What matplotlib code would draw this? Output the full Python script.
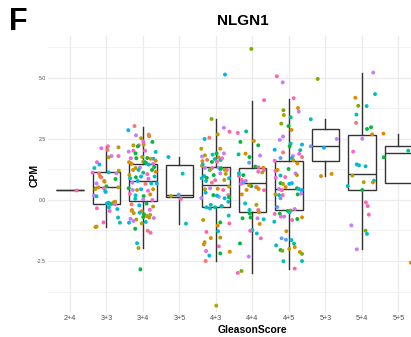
import numpy as np
import matplotlib
matplotlib.use("Agg")
import matplotlib.pyplot as plt

plt.rcParams['font.family'] = ['Liberation Sans', 'DejaVu Sans']

categories = ['2+4', '3+3', '3+4', '3+5', '4+3', '4+4', '4+5', '5+3', '5+4', '5+5']

# box statistics per Gleason score (CPM)
box_lo  = [0.42, -1.11, -1.97, -0.97, -2.50, -3.00, -2.83, 0.98, -2.00, 0.68]
box_q1  = [0.42, -0.15, -0.03,  0.11, -0.29, -0.50, -0.42, 1.61,  0.41, 0.68]
box_med = [0.42,  0.53,  0.79,  0.22,  0.63,  0.70,  0.46, 2.20,  1.07, 1.91]
box_q3  = [0.42,  1.14,  1.46,  1.42,  1.34,  1.32,  1.61, 2.91,  2.65, 2.20]
box_hi  = [0.42,  2.21,  3.01,  1.75,  3.31,  4.07,  4.15, 3.31,  5.22, 2.70]

# samples: (jitter, CPM, colour group)
pts_2p4 = [(0.16, 0.42, 11)]

pts_3p3 = [
    (-0.14, 2.12, 10), (0.04, 2.20, 11), (0.03, 2.05, 0), (0.33, 2.16, 2),
    (0.14, 1.80, 9), (0.06, 1.75, 2), (0.33, 1.80, 11), (-0.26, 1.55, 10),
    (-0.19, 1.45, 7), (-0.33, 1.31, 6), (-0.38, 1.12, 10), (-0.20, 1.08, 0),
    (0.06, 1.13, 6), (0.27, 1.09, 9), (0.34, 1.20, 2), (-0.17, 0.96, 2),
    (-0.14, 0.93, 0), (0.25, 0.86, 4), (-0.06, 0.78, 2), (-0.05, 0.75, 1),
    (0.00, 0.56, 4), (-0.27, 0.68, 9), (-0.30, 0.45, 2), (-0.22, 0.52, 1),
    (-0.07, 0.48, 11), (-0.03, 0.36, 6), (-0.02, 0.33, 7), (0.33, 0.52, 2),
    (-0.34, 0.18, 9), (-0.27, 0.15, 6), (0.01, -0.14, 7), (0.06, -0.11, 6),
    (0.12, -0.16, 5), (0.19, -0.10, 1), (0.24, -0.07, 2), (0.24, -0.18, 10),
    (0.07, -0.30, 6), (0.30, -0.37, 7), (-0.26, -0.34, 11), (0.09, -0.45, 10),
    (0.32, -0.72, 6), (0.37, -0.93, 6), (-0.08, -0.92, 11), (-0.27, -1.09, 2),
    (-0.30, -1.11, 1),
]

pts_3p4 = [
    (-0.40, 2.86, 7), (-0.23, 3.03, 0), (-0.19, 2.65, 9), (-0.05, 2.53, 2),
    (0.17, 2.62, 1), (0.16, 2.68, 0), (0.26, 2.38, 4), (0.01, 2.40, 10),
    (-0.39, 1.98, 9), (-0.26, 2.02, 11), (-0.20, 1.91, 4), (-0.26, 2.24, 2),
    (-0.11, 2.24, 10), (0.02, 2.27, 2), (-0.14, 2.20, 4), (0.06, 2.02, 10),
    (0.35, 1.97, 6), (-0.33, 1.71, 10), (-0.18, 1.71, 4), (-0.02, 1.76, 2),
    (0.12, 1.72, 4), (0.29, 1.69, 7), (0.35, 1.61, 1), (-0.38, 1.55, 1),
    (0.01, 1.57, 2), (0.05, 1.55, 6), (0.09, 1.52, 7), (0.28, 1.48, 10),
    (0.31, 1.35, 4), (-0.20, 1.31, 2), (-0.08, 1.33, 9), (-0.31, 1.49, 1),
    (0.06, 1.53, 4), (0.16, 1.45, 6), (0.21, 1.69, 1), (-0.27, 1.23, 1),
    (-0.12, 1.23, 6), (0.01, 1.12, 5), (0.12, 1.06, 11), (0.25, 1.23, 4),
    (0.35, 1.15, 1), (-0.37, 1.02, 2), (-0.19, 0.93, 4), (-0.05, 0.96, 7),
    (0.15, 0.87, 10), (0.32, 0.96, 6), (-0.29, 0.71, 9), (-0.14, 0.78, 7),
    (0.07, 0.66, 0), (0.23, 0.68, 6), (0.38, 0.68, 7), (-0.39, 0.48, 4),
    (-0.28, 0.41, 9), (-0.16, 0.41, 2), (-0.05, 0.44, 7), (0.14, 0.38, 10),
    (0.28, 0.44, 2), (-0.36, 0.25, 11), (-0.20, 0.19, 6), (0.02, 0.16, 4),
    (0.20, 0.23, 1), (-0.21, 0.05, 6), (0.01, 0.03, 9), (0.26, 0.00, 10),
    (-0.31, -0.18, 0), (-0.10, -0.22, 7), (0.10, -0.15, 4), (0.28, -0.27, 2),
    (-0.31, -0.44, 11), (-0.03, -0.46, 1), (0.19, -0.40, 10), (-0.34, -0.77, 9),
    (-0.18, -0.80, 2), (0.01, -0.70, 4), (0.17, -0.72, 1), (0.30, -0.74, 9),
    (-0.38, -0.93, 7), (-0.21, -1.18, 4), (-0.30, -0.41, 1), (-0.25, -0.54, 2),
    (-0.09, -0.52, 7), (0.03, -0.59, 4), (0.11, -0.66, 2), (0.20, -0.61, 2),
    (-0.03, -0.96, 2), (0.08, -0.90, 6), (0.13, -1.26, 0), (0.21, -1.34, 11),
    (-0.16, -1.77, 6), (-0.12, -1.97, 2), (-0.07, -2.84, 4), (-0.26, -0.86, 9),
    (-0.35, 0.89, 6),
]

pts_3p5 = [
    (-0.30, 1.76, 7), (0.09, 1.08, 6), (-0.23, 0.16, 2), (-0.02, 0.22, 8),
    (0.04, 0.04, 11), (0.18, -0.97, 6),
]

pts_4p3 = [
    (0.25, 5.14, 7), (-0.12, 3.32, 3), (-0.31, 2.50, 7), (-0.18, 2.55, 0),
    (0.05, 2.69, 2), (0.22, 2.96, 9), (0.37, 2.80, 11), (-0.40, 2.10, 2),
    (-0.09, 1.86, 6), (0.02, 1.91, 4), (0.12, 2.10, 1), (-0.30, 1.83, 2),
    (-0.38, 1.78, 9), (-0.24, 1.64, 0), (-0.37, 1.59, 1), (-0.03, 1.68, 6),
    (0.07, 1.75, 2), (0.22, 1.91, 9), (0.13, 1.64, 5), (-0.11, 1.56, 4),
    (-0.38, 1.40, 1), (-0.30, 1.31, 9), (-0.10, 1.31, 10), (0.08, 1.31, 9),
    (0.12, 1.26, 7), (-0.36, 1.46, 6), (0.03, 1.57, 11), (0.17, 1.71, 10),
    (-0.17, 1.23, 6), (0.14, 1.30, 4), (0.30, 1.23, 11), (-0.32, 0.98, 7),
    (-0.06, 1.02, 4), (0.12, 1.09, 9), (0.27, 1.07, 2), (-0.27, 0.78, 6),
    (-0.11, 0.71, 0), (-0.02, 0.81, 11), (0.23, 0.82, 2), (0.36, 0.89, 6),
    (-0.30, 0.44, 2), (-0.16, 0.48, 9), (0.05, 0.46, 1), (0.20, 0.41, 11),
    (0.36, 0.55, 2), (-0.40, 0.08, 9), (-0.28, 0.30, 7), (-0.07, 0.20, 4),
    (0.08, 0.13, 9), (0.34, 0.20, 11), (0.03, 0.18, 7), (0.24, 0.07, 7),
    (0.36, 0.11, 4), (-0.26, -0.30, 6), (-0.16, -0.35, 7), (-0.02, -0.30, 5),
    (0.15, -0.25, 11), (0.34, -0.07, 6), (-0.14, -0.20, 6), (0.16, -0.25, 6),
    (0.35, -0.64, 6), (-0.35, -0.82, 2), (0.12, -0.92, 4), (0.37, -0.96, 11),
    (0.05, -1.05, 1), (-0.26, -1.31, 11), (0.06, -1.28, 6), (-0.14, -1.56, 1),
    (0.12, -1.54, 2), (-0.31, -1.73, 2), (-0.33, -1.82, 1), (0.08, -1.90, 11),
    (-0.27, -2.09, 10), (0.12, -2.19, 4), (0.38, -2.12, 1), (-0.18, -2.28, 7),
    (-0.28, -2.50, 0), (0.01, -4.33, 2), (-0.15, 1.26, 2), (0.24, 1.24, 2),
    (-0.39, 0.89, 6), (-0.25, 0.91, 4),
]

pts_4p4 = [
    (-0.03, 6.19, 3), (0.32, 4.09, 11), (-0.40, 2.75, 11), (-0.17, 2.81, 5),
    (-0.33, 2.38, 4), (0.04, 2.42, 1), (0.16, 2.24, 4), (-0.38, 1.87, 5),
    (-0.19, 1.90, 1), (-0.08, 1.76, 4), (0.21, 1.82, 9), (-0.09, 1.53, 8),
    (0.08, 1.37, 4), (0.17, 1.34, 11), (0.30, 1.32, 1), (-0.37, 0.98, 11),
    (-0.37, 1.09, 6), (-0.25, 1.02, 4), (-0.29, 0.82, 11), (-0.18, 0.79, 9),
    (-0.31, 0.66, 10), (0.32, 1.23, 11), (0.27, 1.13, 2), (0.16, 1.16, 10),
    (-0.16, 0.41, 1), (-0.03, 0.57, 4), (0.10, 0.53, 9), (0.17, 0.45, 1),
    (0.32, 0.40, 11), (-0.29, 0.23, 1), (-0.25, 0.71, 8), (-0.09, 0.60, 2),
    (0.12, 0.52, 1), (-0.20, -0.14, 6), (0.11, -0.20, 2), (-0.08, -0.41, 6),
    (-0.07, -0.56, 4), (-0.27, -0.75, 4), (0.31, -0.79, 6), (0.20, -0.98, 1),
    (0.00, -1.23, 6), (-0.05, -0.72, 4), (0.14, -0.75, 9), (-0.06, -1.26, 11),
    (0.12, -1.37, 6), (0.23, -1.57, 11), (-0.34, -1.78, 4), (-0.10, -2.32, 9),
    (-0.30, -2.91, 3), (-0.40, -2.99, 11), (0.16, -0.41, 11), (0.18, -0.50, 1),
]

pts_4p5 = [
    (-0.33, 5.07, 11), (-0.17, 4.82, 9), (0.13, 4.17, 11), (0.25, 3.77, 1),
    (0.27, 3.62, 9), (-0.15, 3.68, 3), (-0.14, 3.48, 2), (0.05, 3.39, 5),
    (-0.21, 3.13, 3), (-0.01, 3.03, 4), (0.07, 2.87, 1), (-0.16, 2.60, 9),
    (-0.25, 2.46, 9), (0.05, 2.31, 6), (0.02, 2.20, 4), (0.36, 2.27, 7),
    (-0.39, 2.06, 7), (0.31, 2.04, 5), (-0.16, 1.95, 0), (0.28, 1.89, 10),
    (0.11, 1.80, 9), (0.08, 1.71, 7), (0.36, 1.76, 0), (-0.23, 1.72, 8),
    (0.12, 1.63, 2), (0.23, 1.50, 1), (-0.39, 1.61, 10), (-0.37, 1.19, 10),
    (-0.31, 1.23, 1), (-0.23, 1.00, 6), (-0.10, 0.94, 11), (-0.01, 1.27, 4),
    (0.18, 1.09, 9), (0.22, 1.02, 2), (-0.36, 0.91, 10), (-0.23, 0.69, 4),
    (-0.16, 0.66, 2), (0.01, 0.66, 6), (0.08, 0.69, 7), (-0.27, 0.45, 9),
    (-0.19, 0.40, 11), (-0.09, 0.53, 1), (0.22, 0.48, 4), (0.27, 0.45, 6),
    (0.35, 0.40, 7), (-0.37, 0.23, 2), (-0.27, 0.20, 6), (-0.17, 0.20, 11),
    (-0.23, 0.07, 8), (0.34, 0.26, 9), (0.24, 0.23, 4), (-0.32, -0.29, 8),
    (-0.03, -0.45, 4), (0.05, -0.43, 2), (0.02, -0.50, 6), (0.16, -0.37, 9),
    (-0.25, -0.56, 4), (-0.39, -0.57, 11), (-0.22, -0.68, 10), (-0.13, -0.68, 9),
    (0.09, -0.82, 11), (0.23, -0.78, 4), (0.36, -0.71, 1), (-0.40, -0.89, 6),
    (-0.07, -1.28, 1), (-0.20, -1.57, 8), (-0.08, -1.63, 8), (0.07, -1.64, 6),
    (0.14, -1.79, 5), (0.16, -1.93, 1), (-0.35, -1.86, 6), (-0.23, -2.05, 4),
    (-0.18, -2.08, 3), (0.01, -2.01, 2), (0.30, -2.13, 1), (0.36, -2.21, 3),
    (-0.15, -2.51, 6), (0.36, -2.50, 6), (0.16, -2.81, 11),
]

pts_5p3 = [
    (-0.21, 4.96, 3), (-0.40, 3.31, 6), (0.31, 2.50, 9), (-0.04, 2.14, 7),
    (-0.40, 2.20, 8), (-0.12, 0.98, 1), (0.17, 1.07, 1),
]

pts_5p4 = [
    (0.31, 5.22, 9), (0.36, 4.34, 6), (-0.18, 4.19, 1), (-0.10, 3.86, 3),
    (0.13, 3.85, 6), (-0.15, 3.50, 6), (-0.16, 3.16, 0), (0.14, 2.91, 4),
    (0.25, 2.98, 4), (0.28, 2.69, 1), (0.01, 2.51, 9), (-0.24, 1.98, 10),
    (-0.14, 1.46, 7), (-0.08, 1.42, 6), (0.10, 1.38, 6), (-0.26, 1.00, 2),
    (0.05, 0.73, 2), (0.33, 0.79, 6), (0.30, 0.72, 2), (-0.39, 0.57, 6),
    (0.01, 0.41, 4), (0.11, -0.10, 11), (0.16, -0.25, 11), (0.19, -0.60, 11),
    (-0.29, -1.04, 9), (0.10, -1.26, 3), (0.14, -1.39, 6), (-0.14, -2.02, 9),
]

pts_5p5 = [
    (-0.41, 2.72, 1), (-0.40, 1.75, 4), (0.27, 2.02, 5), (0.34, -2.57, 1),
]

points = [pts_2p4, pts_3p3, pts_3p4, pts_3p5, pts_4p3,
          pts_4p4, pts_4p5, pts_5p3, pts_5p4, pts_5p5]

# ggplot-style hue palette, 12 levels
palette = ['#F8766D', '#DE8C00', '#B79F00', '#7CAE00', '#00BA38', '#00C08B',
           '#00BFC4', '#00B4F0', '#619CFF', '#C77CFF', '#F564E3', '#FF64B0']

fig = plt.figure(figsize=(4.11, 3.37), dpi=100)
W, H = 411, 337
ax = fig.add_axes([48 / W, (H - 312) / H, 408.8 / W, 276 / H])

stats = []
for i in range(len(categories)):
    stats.append(dict(whislo=box_lo[i], q1=box_q1[i], med=box_med[i],
                      q3=box_q3[i], whishi=box_hi[i], fliers=[]))

line_col = '#333333'
ax.bxp(stats, positions=np.arange(len(categories)), widths=0.75,
       showfliers=False, showcaps=False, patch_artist=True,
       boxprops=dict(facecolor='white', edgecolor=line_col, linewidth=1.0),
       whiskerprops=dict(color=line_col, linewidth=1.0),
       medianprops=dict(color=line_col, linewidth=1.0),
       manage_ticks=False, zorder=2)

for i, grp in enumerate(points):
    arr = np.array(grp)
    xs = i + arr[:, 0]
    ys = arr[:, 1]
    cols = [palette[int(c)] for c in arr[:, 2]]
    ax.scatter(xs, ys, s=8, c=cols, linewidths=0, zorder=3)

ax.set_xlim(-0.6, 10.6)
ax.set_ylim(-4.59, 6.72)
ax.set_xticks(np.arange(len(categories)))
ax.set_xticklabels(categories)
ax.set_yticks([-2.5, 0, 2.5, 5.0])
ax.set_yticklabels(['-2.5', '0.0', '2.5', '5.0'])
ax.set_yticks([-3.75, -1.25, 1.25, 3.75, 6.25], minor=True)

ax.set_axisbelow(True)
ax.grid(which='major', color='#EBEBEB', linewidth=0.9)
ax.grid(which='minor', axis='y', color='#EBEBEB', linewidth=0.5)
for sp in ax.spines.values():
    sp.set_visible(False)
ax.tick_params(axis='both', which='both', length=0)
ax.tick_params(axis='x', labelsize=5.1, labelcolor='#4D4D4D', pad=2)
ax.tick_params(axis='y', labelsize=3.7, labelcolor='#4D4D4D', pad=1.5)

fig.text(18 / W, 1 - 21.5 / H, 'F', fontsize=22, fontweight='bold',
         ha='center', va='center')
fig.text(243 / W, 1 - 21 / H, 'NLGN1', fontsize=11, fontweight='bold',
         ha='center', va='center')
fig.text(252 / W, 1 - 330 / H, 'GleasonScore', fontsize=7.5,
         fontweight='bold', ha='center', va='center')
fig.text(35 / W, 1 - 175 / H, 'CPM', fontsize=7.5, fontweight='bold',
         rotation=90, ha='center', va='center')

fig.savefig('out.png', dpi=100)
